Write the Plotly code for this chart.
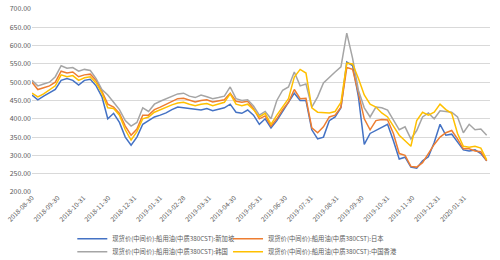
import datetime as dt
import plotly.graph_objects as go

start = dt.date(2018, 8, 30)
n = 79
dates = [(start + dt.timedelta(days=7 * i)).isoformat() for i in range(n)]

singapore = [465, 452, 462, 470, 480, 505, 510, 505, 492, 505, 508, 490, 460, 400, 415, 390, 350, 328, 350, 385,
             395, 405, 410, 416, 425, 432, 430, 428, 425, 424, 428, 422, 426, 430, 440, 418, 415, 424, 410, 385,
             400, 375, 395, 420, 445, 470, 450, 450, 370, 345, 350, 395, 405, 430, 555, 545, 460, 330, 360, 368,
             378, 385, 340, 290, 295, 268, 265, 285, 296, 335, 385, 355, 358, 335, 315, 312, 315, 305, 285]
japan = [500, 480, 485, 490, 500, 530, 525, 528, 515, 520, 522, 505, 475, 440, 432, 415, 380, 355, 372, 410,
         410, 425, 432, 440, 448, 455, 456, 450, 446, 450, 452, 446, 450, 452, 470, 448, 445, 448, 428, 400,
         408, 380, 400, 425, 445, 480, 455, 456, 375, 362, 378, 405, 410, 432, 540, 535, 470, 400, 370, 395,
         398, 397, 360, 305, 300, 270, 268, 280, 305, 330, 350, 362, 368, 345, 318, 318, 312, 310, 285]
korea = [505, 490, 495, 500, 515, 545, 538, 540, 530, 535, 532, 510, 480, 465, 445, 425, 395, 380, 390, 430,
         420, 440, 448, 455, 462, 468, 470, 462, 458, 465, 460, 455, 458, 462, 487, 455, 450, 452, 435, 410,
         420, 400, 450, 478, 487, 528, 490, 495, 432, 460, 498, 514, 528, 542, 634, 565, 478, 430, 405, 432,
         430, 424, 397, 370, 378, 345, 368, 405, 416, 400, 422, 420, 418, 405, 362, 385, 370, 372, 355]
hongkong = [470, 460, 468, 478, 490, 520, 515, 518, 505, 512, 515, 498, 470, 430, 428, 410, 370, 342, 365, 400,
            405, 418, 425, 432, 438, 443, 445, 440, 436, 440, 442, 436, 440, 445, 468, 440, 436, 440, 425, 405,
            415, 385, 410, 432, 455, 514, 535, 525, 430, 418, 416, 416, 420, 445, 552, 550, 510, 465, 440, 432,
            416, 405, 380, 355, 340, 325, 395, 418, 410, 418, 440, 425, 415, 360, 325, 322, 325, 320, 288]

names = ["现货价(中间价):船用油(中质380CST):新加坡", "现货价(中间价):船用油(中质380CST):日本",
         "现货价(中间价):船用油(中质380CST):韩国", "现货价(中间价):船用油(中质380CST):中国香港"]
series = [singapore, japan, korea, hongkong]
colors = ["#4472C4", "#ED7D31", "#A5A5A5", "#FFC000"]
legend_ids = ["legend", "legend2", "legend3", "legend4"]

tick_dates = ["2018-08-30", "2018-09-30", "2018-10-31", "2018-11-30", "2018-12-31", "2019-01-31",
              "2019-02-28", "2019-03-31", "2019-04-30", "2019-05-31", "2019-06-30", "2019-07-31",
              "2019-08-31", "2019-09-30", "2019-10-31", "2019-11-30", "2019-12-31", "2020-01-31"]

fig = go.Figure()
for nm, ys, c, lg in zip(names, series, colors, legend_ids):
    fig.add_trace(go.Scatter(x=dates, y=ys, mode="lines", name=nm, legend=lg,
                             line=dict(color=c, width=1.5)))

font_family = "Noto Sans CJK SC, Liberation Sans, sans-serif"
leg_common = dict(orientation="h", xanchor="left", yanchor="middle", itemwidth=30,
                  font=dict(size=6.3, color="#595959"), bgcolor="rgba(0,0,0,0)")
col_x = [0.088, 0.428]
row_y = [-0.256, -0.327]
fig.update_layout(
    width=500, height=260,
    margin=dict(l=32, r=10, t=9, b=68, autoexpand=False),
    paper_bgcolor="white", plot_bgcolor="white",
    font=dict(family=font_family, size=7, color="#595959"),
    showlegend=True,
    legend=dict(x=col_x[0], y=row_y[0], **leg_common),
    legend2=dict(x=col_x[1], y=row_y[0], **leg_common),
    legend3=dict(x=col_x[0], y=row_y[1], **leg_common),
    legend4=dict(x=col_x[1], y=row_y[1], **leg_common),
)
fig.update_xaxes(type="date", range=["2018-08-30", "2020-03-02"],
                 tickvals=tick_dates, ticktext=tick_dates, tickangle=-45,
                 showgrid=False, showline=False, zeroline=False, ticks="",
                 tickfont=dict(size=6.5, color="#595959"))
fig.update_yaxes(range=[200, 700], dtick=50, tick0=200, tickformat=".2f",
                 showgrid=True, gridcolor="#D9D9D9", gridwidth=1, zeroline=False,
                 showline=False, ticks="", tickfont=dict(size=7, color="#595959"))

fig.write_html("out.html")
